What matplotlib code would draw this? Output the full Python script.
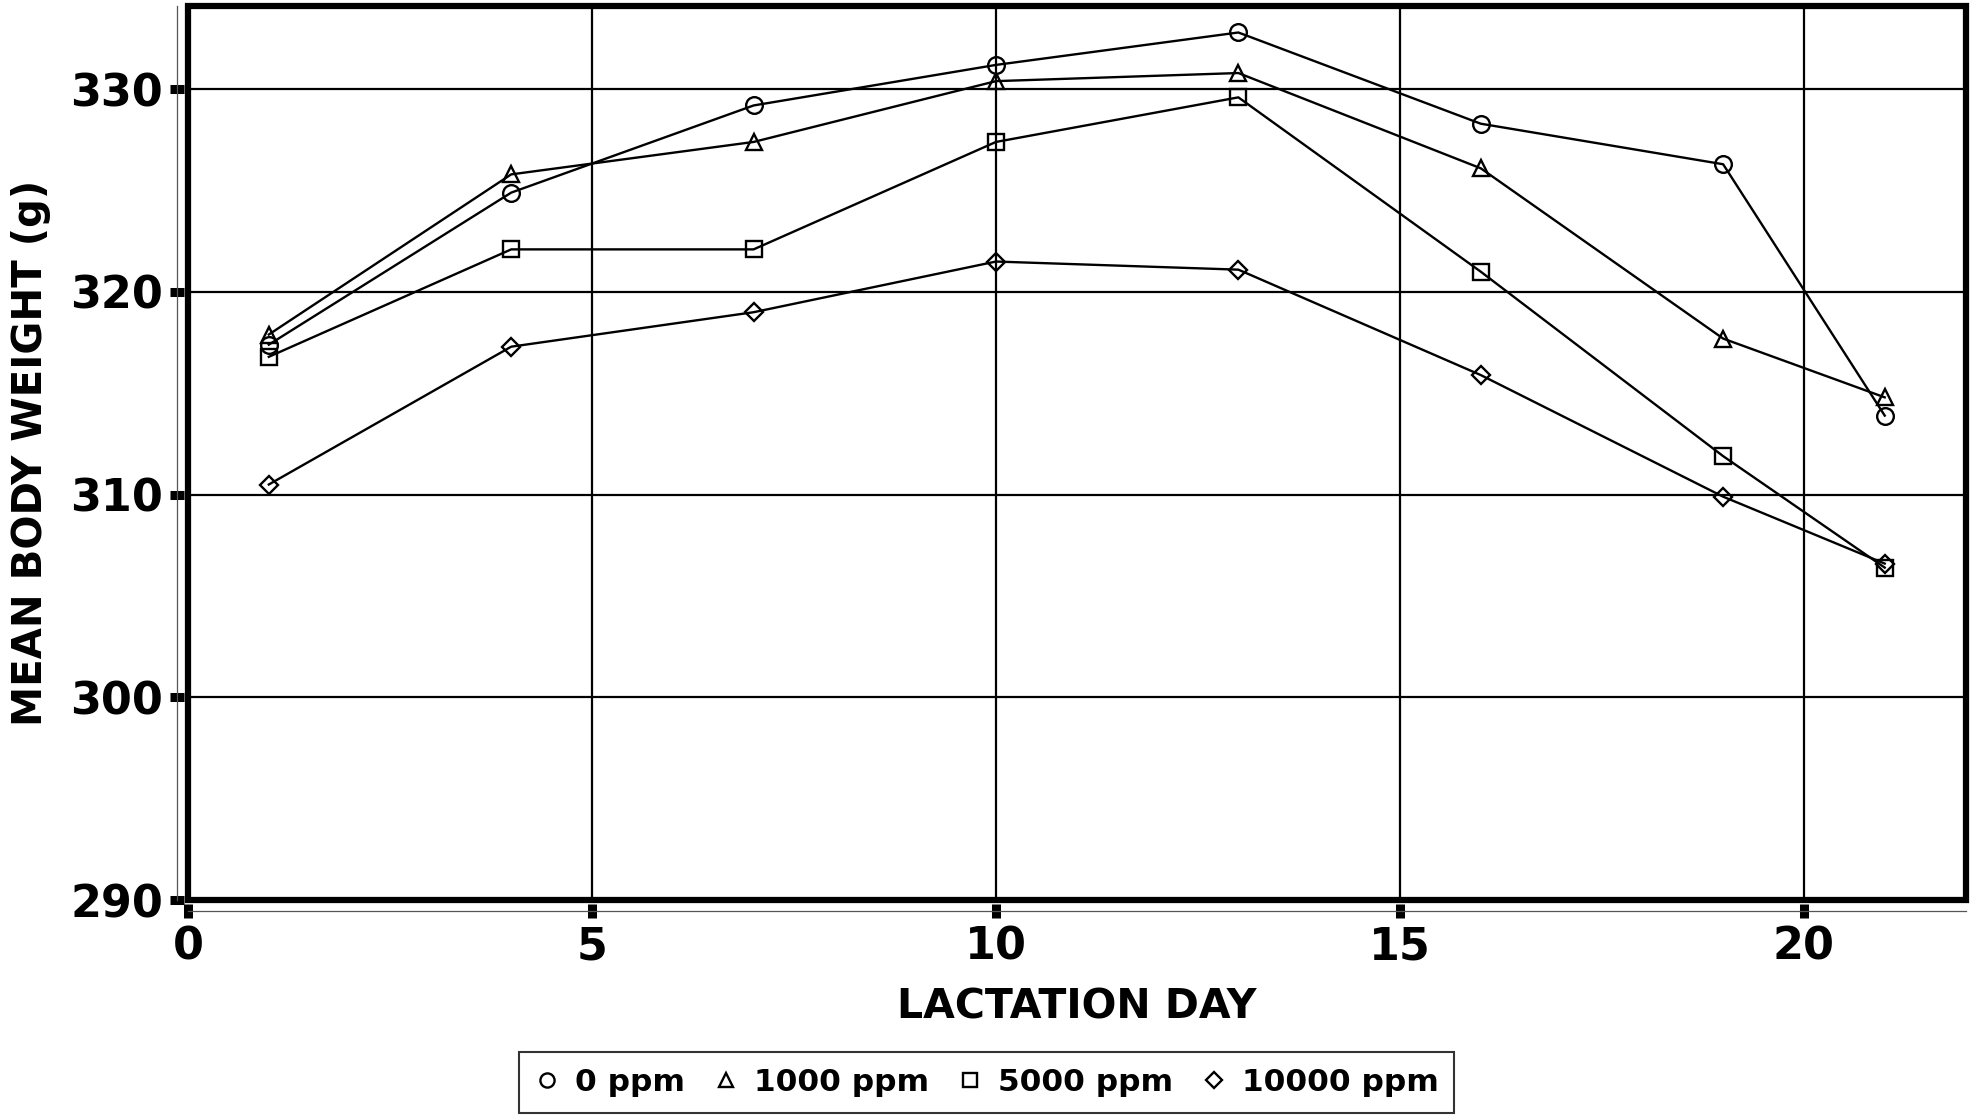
import matplotlib
matplotlib.use('Agg')
import matplotlib.pyplot as plt
from matplotlib.patches import Rectangle

plt.rcParams['font.family'] = ['DejaVu Sans']
plt.rcParams['font.weight'] = 'bold'
plt.rcParams['axes.labelweight'] = 'bold'

days = [1, 4, 7, 10, 13, 16, 19, 21]
ppm_0 = [317.4, 324.9, 329.2, 331.2, 332.8, 328.3, 326.3, 313.9]
ppm_1000 = [317.9, 325.8, 327.4, 330.4, 330.8, 326.1, 317.7, 314.8]
ppm_5000 = [316.8, 322.1, 322.1, 327.4, 329.6, 321.0, 311.9, 306.4]
ppm_10000 = [310.5, 317.3, 319.0, 321.5, 321.1, 315.9, 309.9, 306.6]
labels = ['0 ppm', '1000 ppm', '5000 ppm', '10000 ppm']
markers = ['o', '^', 's', 'D']

fig = plt.figure(figsize=(19.75, 11.16), dpi=100)
ax = fig.add_axes([0.0952, 0.1935, 0.9, 0.801])

for vals, m, lab in zip([ppm_0, ppm_1000, ppm_5000, ppm_10000], markers, labels):
    ms = 9 if m == 'D' else 12
    ax.plot(days, vals, '-', color='black', lw=1.7, marker=m, ms=ms,
            mfc='none', mec='black', mew=1.7, label=lab, zorder=3)

ax.set_xlim(0, 22)
ax.set_ylim(290, 334.1)
ax.set_xticks([0, 5, 10, 15, 20])
ax.set_yticks([290, 300, 310, 320, 330])
ax.grid(True, color='black', lw=1.6, zorder=1)

# thick frame around plot area
ax.add_patch(Rectangle((0, 0), 1, 1, transform=ax.transAxes, fill=False,
                       lw=4.5, ec='black', clip_on=False, zorder=5))

for s in ['top', 'right']:
    ax.spines[s].set_visible(False)
for s in ['left', 'bottom']:
    ax.spines[s].set_position(('outward', 8))
    ax.spines[s].set_linewidth(0.9)
    ax.spines[s].set_color('#555555')

ax.tick_params(axis='both', direction='inout', length=10, width=6.5,
               labelsize=32, pad=5)
ax.set_xlabel('LACTATION DAY', fontsize=29.5, labelpad=14)
ax.set_ylabel('MEAN BODY WEIGHT (g)', fontsize=29, labelpad=14)

leg = fig.legend(loc='lower center', bbox_to_anchor=(0.4995, -0.011), ncol=4,
                 fontsize=22.5, frameon=True, fancybox=False, edgecolor='black',
                 handlelength=0.8, handletextpad=0.5, columnspacing=0.9,
                 borderpad=0.5, markerscale=0.85)
leg.get_frame().set_linewidth(1.5)
for h in leg.legend_handles:
    h.set_linestyle('none')

plt.savefig('out.png', dpi=100)
